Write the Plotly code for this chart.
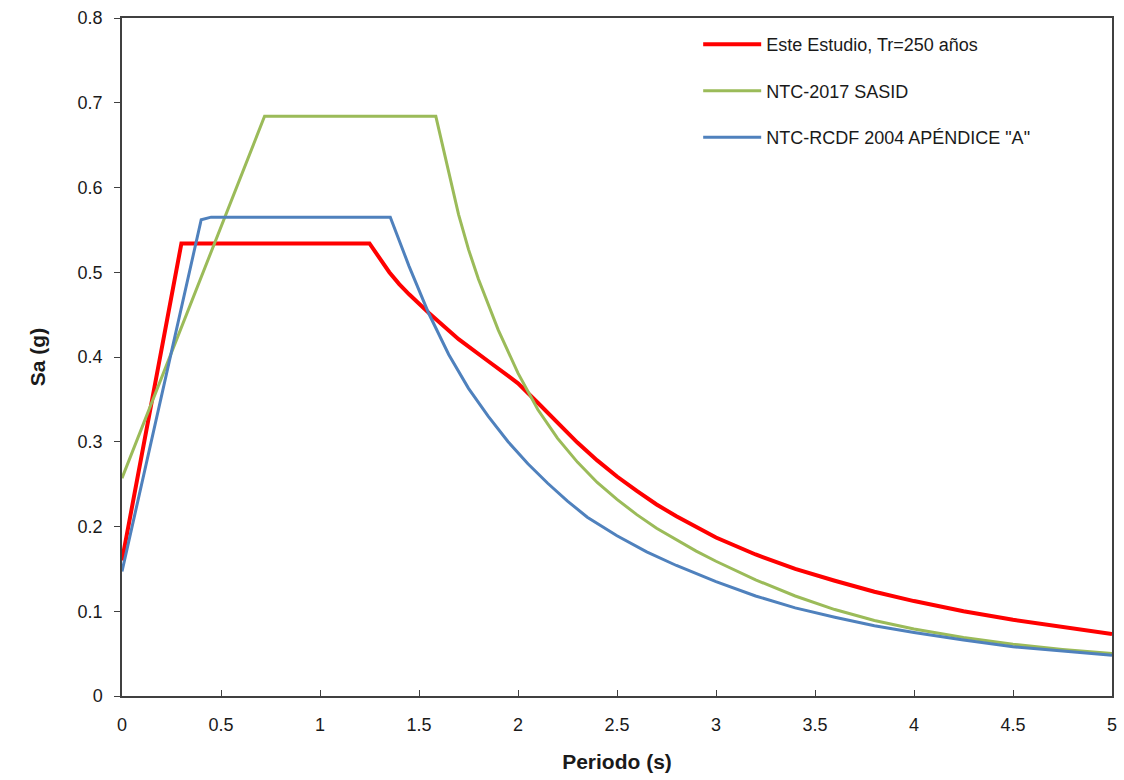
import plotly.graph_objects as go

# Spectral ordinates Sa (g) versus period T (s)
t_estudio = [0.0, 0.3, 1.25, 1.30, 1.35, 1.40, 1.45, 1.55, 1.70, 1.85, 2.0, 2.1, 2.2, 2.3,
             2.4, 2.5, 2.6, 2.7, 2.8, 2.9, 3.0, 3.2, 3.4, 3.6, 3.8, 4.0, 4.25, 4.5, 4.75, 5.0]
sa_estudio = [0.160, 0.534, 0.534, 0.516, 0.500, 0.486, 0.474, 0.452, 0.421, 0.395, 0.369,
              0.346, 0.322, 0.299, 0.278, 0.259, 0.242, 0.226, 0.212, 0.199, 0.187, 0.167,
              0.150, 0.136, 0.123, 0.112, 0.100, 0.090, 0.081, 0.073]

t_ntc2017 = [0.0, 0.72, 1.585, 1.70, 1.75, 1.80, 1.90, 2.0, 2.1, 2.2, 2.3, 2.4, 2.5, 2.6,
             2.7, 2.8, 2.9, 3.0, 3.2, 3.4, 3.6, 3.8, 4.0, 4.25, 4.5, 4.75, 5.0]
sa_ntc2017 = [0.257, 0.684, 0.684, 0.568, 0.527, 0.492, 0.432, 0.381, 0.338, 0.304, 0.276,
              0.252, 0.232, 0.214, 0.198, 0.184, 0.171, 0.159, 0.137, 0.118, 0.102, 0.089,
              0.079, 0.069, 0.061, 0.055, 0.050]

t_rcdf2004 = [0.0, 0.40, 0.45, 1.355, 1.45, 1.55, 1.65, 1.75, 1.85, 1.95, 2.05, 2.15, 2.25,
              2.35, 2.5, 2.65, 2.8, 3.0, 3.2, 3.4, 3.6, 3.8, 4.0, 4.25, 4.5, 4.75, 5.0]
sa_rcdf2004 = [0.147, 0.562, 0.565, 0.565, 0.507, 0.451, 0.403, 0.363, 0.330, 0.300, 0.274,
               0.251, 0.230, 0.211, 0.189, 0.170, 0.154, 0.135, 0.118, 0.104, 0.093, 0.083,
               0.075, 0.066, 0.058, 0.053, 0.048]

series = [
    ("Este Estudio, Tr=250 años", t_estudio, sa_estudio, "#FF0000", 4),
    ("NTC-2017 SASID", t_ntc2017, sa_ntc2017, "#9BBB59", 3),
    ('NTC-RCDF 2004 APÉNDICE "A"', t_rcdf2004, sa_rcdf2004, "#4F81BD", 3),
]

fig = go.Figure()
for i, (name, t, sa, color, width) in enumerate(series):
    fig.add_trace(go.Scatter(
        x=t, y=sa, mode="lines", name=name, legendgroup=f"g{i}",
        line=dict(color=color, width=width),
    ))

axis_font = dict(family="Liberation Sans, Arial, sans-serif", size=18, color="#1a1a1a")
title_font = dict(family="Liberation Sans, Arial, sans-serif", size=21, color="#1a1a1a")

fig.update_layout(
    width=1124, height=780,
    margin=dict(l=122, r=7, t=18, b=84),
    paper_bgcolor="white", plot_bgcolor="white",
    font=axis_font,
    showlegend=True,
    legend=dict(
        x=0.582, y=0.988, xanchor="left", yanchor="top",
        bgcolor="rgba(0,0,0,0)", borderwidth=0,
        font=dict(family="Liberation Sans, Arial, sans-serif", size=18, color="#1a1a1a"),
        traceorder="grouped", tracegroupgap=20, itemwidth=58,
    ),
    xaxis=dict(
        range=[0, 5], showgrid=False, zeroline=False,
        showline=True, linecolor="#404040", linewidth=1.5, mirror=True,
        ticks="inside", ticklen=6, tickcolor="#404040", tickwidth=1,
        tickfont=axis_font, ticklabelstandoff=12,
        tickvals=[0, 0.5, 1, 1.5, 2, 2.5, 3, 3.5, 4, 4.5, 5],
        ticktext=["0", "0.5", "1", "1.5", "2", "2.5", "3", "3.5", "4", "4.5", "5"],
        title=dict(text="<b>Periodo (s)</b>", font=title_font, standoff=20),
    ),
    yaxis=dict(
        range=[0, 0.8], showgrid=False, zeroline=False,
        showline=True, linecolor="#404040", linewidth=1.5, mirror=True,
        ticks="outside", ticklen=6, tickcolor="#404040", tickwidth=1,
        tickfont=axis_font, ticklabelstandoff=8,
        tickvals=[0, 0.1, 0.2, 0.3, 0.4, 0.5, 0.6, 0.7, 0.8],
        ticktext=["0", "0.1", "0.2", "0.3", "0.4", "0.5", "0.6", "0.7", "0.8"],
        title=dict(text="<b>Sa (g)</b>", font=title_font, standoff=26),
    ),
)

fig.write_html("out.html")
